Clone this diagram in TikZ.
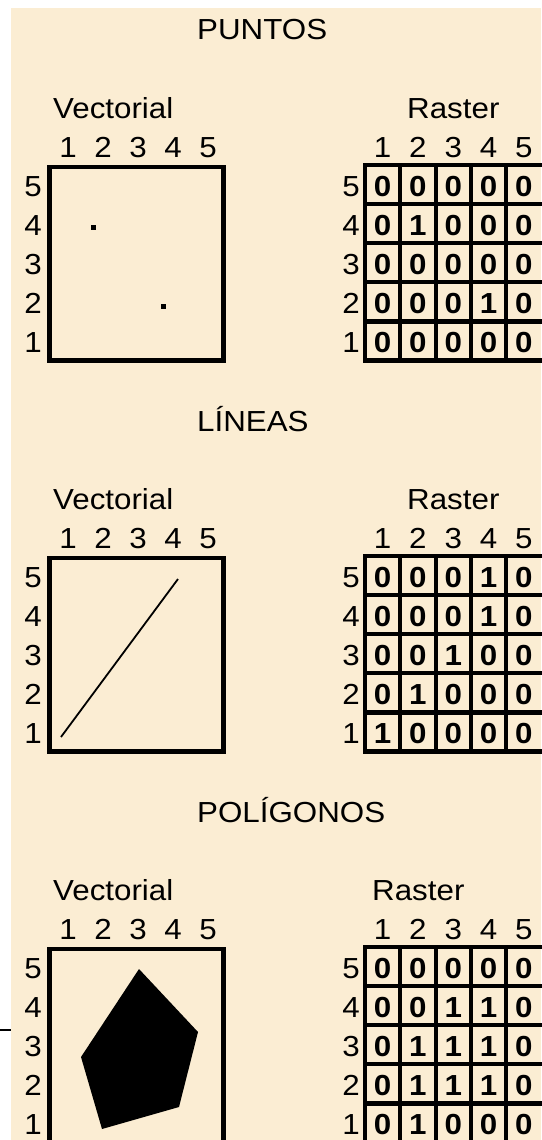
\documentclass[tikz,border=0pt]{standalone}
\usepackage{fontspec}
\setmainfont{Liberation Sans}[FakeStretch=1.08]
\definecolor{parch}{RGB}{251,237,211}
\tikzset{
  lab/.style={font=\fontsize{29}{32}\selectfont, inner sep=0pt, anchor=base},
  ttl/.style={lab, anchor=base west},
  val/.style={font=\fontsize{29}{32}\selectfont\bfseries, inner sep=0pt, anchor=base},
  frame/.style={line width=4.5pt},
  rgrid/.style={line width=4.2pt},
  dotmark/.style={rectangle, fill=black, inner sep=0pt, minimum size=5pt},
}
\newcommand\drawsec[5]{%
\begin{scope}[shift={(0,#2)}]
  \node[ttl] (#1-title) at (197,40) {#3};
  \node[ttl] (#1-vt) at (53,118) {Vectorial};
  \node[ttl] (#1-rt) at (#4,118) {Raster};
  \foreach \k in {1,...,5} {
    \node[lab] (#1-vc\k) at ({68+35*(\k-1)},157) {\k};
    \node[lab] (#1-rc\k) at ({382.65+35.3*(\k-1)},157) {\k};
  }
  \foreach \r in {1,...,5} {
    \node[lab] (#1-vr\r) at (33,{196+39.2*(5-\r)}) {\r};
    \node[lab] (#1-rr\r) at (351,{196+39.2*(5-\r)}) {\r};
  }
  \draw[frame] (49.5,167) rectangle (223.5,360.5);
  \draw[rgrid] (365,165) rectangle (546,360.5);
  \foreach \k in {1,...,4} {
    \draw[rgrid] ({365+35.3*\k},165) -- ({365+35.3*\k},360.5);
    \draw[rgrid] (365,{165+39.1*\k}) -- (546,{165+39.1*\k});
  }
  \foreach \r/\vals in {#5} {
    \foreach \v [count=\k] in \vals {
      \node[val] (#1-v\r\k) at ({382.65+35.3*(\k-1)},{196+39.2*(5-\r)}) {\v};
    }
  }
\end{scope}}
\begin{document}
\begin{tikzpicture}[x=1pt,y=-1pt]
  \useasboundingbox (0,0) rectangle (541,1140);
  \fill[white] (0,0) rectangle (541,1140);
  \fill[parch] (11,8) rectangle (541,1140);
  % section 1
  \drawsec{p}{0}{PUNTOS}{407}{5/{0,0,0,0,0},4/{0,1,0,0,0},3/{0,0,0,0,0},2/{0,0,0,1,0},1/{0,0,0,0,0}}
  \node[dotmark] (dot1) at (93,227) {};
  \node[dotmark] (dot2) at (163,306) {};
  % section 2
  \drawsec{l}{391}{LÍNEAS}{407}{5/{0,0,0,1,0},4/{0,0,0,1,0},3/{0,0,1,0,0},2/{0,1,0,0,0},1/{1,0,0,0,0}}
  \coordinate (la) at (61,737);
  \coordinate (lb) at (178,579);
  \draw[line width=1.8pt] (la) -- (lb);
  % section 3
  \drawsec{g}{782}{POLÍGONOS}{372}{5/{0,0,0,0,0},4/{0,0,1,1,0},3/{0,1,1,1,0},2/{0,1,1,1,0},1/{0,1,0,0,0}}
  \coordinate (pa) at (139,969);
  \coordinate (pb) at (198,1032);
  \coordinate (pc) at (179,1107);
  \coordinate (pd) at (102,1129);
  \coordinate (pe) at (81,1057);
  \fill (pa) -- (pb) -- (pc) -- (pd) -- (pe) -- cycle;
  % short mark at left edge
  \coordinate (ma) at (0,1030);
  \coordinate (mb) at (11,1030);
  \draw[line width=2pt] (ma) -- (mb);
\end{tikzpicture}
\end{document}
